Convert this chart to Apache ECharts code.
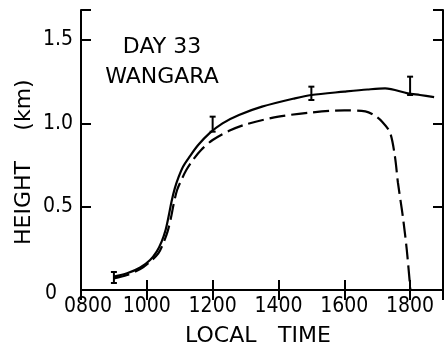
<!DOCTYPE html>
<html><head><meta charset="utf-8">
<script src="https://cdn.jsdelivr.net/npm/echarts@6/dist/echarts.min.js"></script>
<style>html,body{margin:0;padding:0;background:#fff}#c{width:446px;height:346px}</style>
</head><body><div id="c"></div>
<script>
// Local time in decimal hours, boundary-layer height in km
const solidTime = [9.0, 9.4, 9.8, 10.1, 10.3, 10.45, 10.57, 10.66, 10.75, 10.85, 10.97, 11.1, 11.3, 11.56, 11.9, 12.3, 12.8, 13.5, 14.5, 15.0, 16.0, 16.7, 17.24, 17.93, 18.3, 18.73];
const solidHeight = [0.08, 0.10, 0.135, 0.18, 0.23, 0.29, 0.36, 0.44, 0.53, 0.61, 0.68, 0.74, 0.80, 0.87, 0.94, 1.0, 1.05, 1.10, 1.15, 1.17, 1.19, 1.203, 1.21, 1.18, 1.17, 1.157];
const dashTime = [9.0, 9.4, 9.8, 10.1, 10.35, 10.5, 10.63, 10.73, 10.82, 10.92, 11.05, 11.2, 11.4, 11.65, 12.0, 12.5, 13.03, 14.0, 15.0, 16.0, 16.64, 16.9, 17.15, 17.39, 17.54, 17.63, 17.78, 17.9, 18.01];
const dashHeight = [0.07, 0.09, 0.125, 0.17, 0.22, 0.28, 0.35, 0.43, 0.52, 0.60, 0.66, 0.72, 0.78, 0.84, 0.90, 0.955, 0.995, 1.04, 1.065, 1.078, 1.072, 1.05, 1.01, 0.945, 0.80, 0.645, 0.44, 0.24, 0.0];
const obsTime = [9.0, 12.0, 15.0, 18.0];
const obsLow = [0.042, 0.95, 1.14, 1.17];
const obsHigh = [0.108, 1.04, 1.22, 1.28];
const xTicks = [8, 10, 12, 14, 16, 18];
const yTicks = [0, 0.5, 1.0, 1.5];
const labelTexts = ['DAY 33', 'WANGARA'];
const xTitle = ['LOCAL', 'TIME'];
const yTitle = ['HEIGHT', '(km)'];

const TICKFONT = '"DejaVu Sans Condensed", "DejaVu Sans", sans-serif';
const FONT = '"DejaVu Sans", sans-serif';
const chart = echarts.init(document.getElementById('c'), null, {renderer: 'canvas'});
const axisLine = {show: true, lineStyle: {color: '#000', width: 2}};
const tick = {show: true, inside: true, length: 10, lineStyle: {color: '#000', width: 2}};

chart.setOption({
  animation: false,
  backgroundColor: '#fff',
  grid: {left: 81, top: 10, width: 368, height: 280, containLabel: false},
  xAxis: [{
    type: 'value', min: 8, max: 19, interval: 2, position: 'bottom',
    axisLine: axisLine, axisTick: tick, splitLine: {show: false},
    axisLabel: {color: '#000', fontFamily: TICKFONT, fontSize: 21, margin: 6,
      formatter: v => xTicks.includes(v) ? (v === 8 ? '{a|0800}' : String(v * 100).padStart(4, '0')) : '',
      rich: {a: {fontFamily: TICKFONT, fontSize: 21, color: '#000', padding: [0, 0, 0, 14]}}}
  }, {
    type: 'value', min: 8, max: 19, interval: 2, position: 'top',
    axisLine: axisLine, axisTick: tick, splitLine: {show: false}, axisLabel: {show: false}
  }],
  yAxis: [{
    type: 'value', min: 0, max: 1.68, interval: 0.5, position: 'left',
    axisLine: axisLine, axisTick: tick, splitLine: {show: false},
    axisLabel: {color: '#000', fontFamily: TICKFONT, fontSize: 21, margin: 8,
      formatter: v => yTicks.includes(v) ? (v === 0 ? '{z|0}' : v.toFixed(1)) : '',
      rich: {z: {fontFamily: TICKFONT, fontSize: 21, color: '#000', padding: [8, 16, 0, 0]}}}
  }, {
    type: 'value', min: 0, max: 1.68, interval: 0.5, position: 'right',
    axisLine: axisLine, axisTick: tick, splitLine: {show: false}, axisLabel: {show: false}
  }],
  graphic: [
    {type: 'text', x: 162, y: 47, style: {text: labelTexts[0], font: '22px ' + FONT, fill: '#000', align: 'center', verticalAlign: 'middle'}},
    {type: 'text', x: 162, y: 77, style: {text: labelTexts[1], font: '22px ' + FONT, fill: '#000', align: 'center', verticalAlign: 'middle'}},
    {type: 'text', x: 185, y: 336, style: {text: xTitle[0], font: '22px ' + FONT, fill: '#000', align: 'left', verticalAlign: 'middle'}},
    {type: 'text', x: 278, y: 336, style: {text: xTitle[1], font: '22px ' + FONT, fill: '#000', align: 'left', verticalAlign: 'middle'}},
    {type: 'text', x: 24, y: 203, rotation: Math.PI / 2, style: {text: yTitle[0], font: '22px ' + FONT, fill: '#000', align: 'center', verticalAlign: 'middle'}},
    {type: 'text', x: 24, y: 105, rotation: Math.PI / 2, style: {text: yTitle[1], font: '22px ' + FONT, fill: '#000', align: 'center', verticalAlign: 'middle'}}
  ],
  series: [{
    type: 'line', data: solidTime.map((t, i) => [t, solidHeight[i]]),
    showSymbol: false, smooth: 0.3,
    lineStyle: {color: '#000', width: 2.2}
  }, {
    type: 'line', data: dashTime.map((t, i) => [t, dashHeight[i]]),
    showSymbol: false, smooth: 0.3,
    lineStyle: {color: '#000', width: 2.2, type: [16, 6]}
  }, {
    type: 'custom', data: obsTime.map((t, i) => [t, obsLow[i], obsHigh[i]]),
    renderItem: (params, api) => {
      const x = api.value(0);
      const p1 = api.coord([x, api.value(1)]);
      const p2 = api.coord([x, api.value(2)]);
      const w = 3;
      const st = {stroke: '#000', lineWidth: 2};
      return {type: 'group', children: [
        {type: 'line', shape: {x1: p1[0], y1: p1[1], x2: p2[0], y2: p2[1]}, style: st},
        {type: 'line', shape: {x1: p1[0] - w, y1: p1[1], x2: p1[0] + w, y2: p1[1]}, style: st},
        {type: 'line', shape: {x1: p2[0] - w, y1: p2[1], x2: p2[0] + w, y2: p2[1]}, style: st}
      ]};
    }
  }]
});
</script></body></html>
